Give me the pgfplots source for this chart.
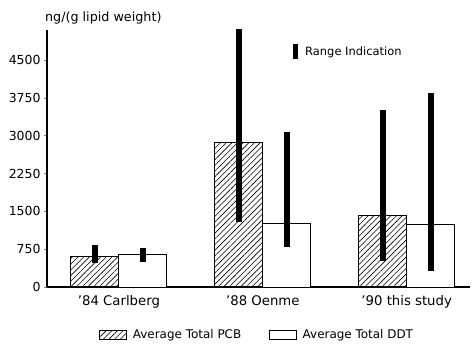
\documentclass[border=0pt]{standalone}
\usepackage{pgfplots}
\pgfplotsset{compat=1.18}
\usepackage{fontspec}
\setmainfont{DejaVu Sans}
\usetikzlibrary{patterns.meta}
\begin{document}
\begin{tikzpicture}
\path[use as bounding box] (-47bp,-65bp) rectangle (428bp,287bp);
\begin{axis}[
  at={(0,0)}, anchor=south west,
  scale only axis, width=423bp, height=257bp,
  xmin=-0.5, xmax=2.44, ymin=0, ymax=5100,
  clip=false,
  axis lines*=left,
  axis line style={line width=1.1bp},
  ybar=0pt, bar width=48bp,
  xtick={0,1,2},
  xticklabels={'84 Carlberg,'88 Oenme,'90 this study},
  ytick={0,750,1500,2250,3000,3750,4500},
  yticklabels={0,750,1500,2250,3000,3750,4500},
  /pgf/number format/assume math mode=true,
  tick align=outside,
  x tick style={draw=none},
  y tick style={line width=0.8bp},
  major tick length=3bp,
  tick label style={font=\fontsize{12.5}{14}\selectfont},
  xticklabel style={font=\fontsize{13.3}{15}\selectfont, yshift=-2bp},
  legend columns=2,
  legend style={at={(rel axis cs:0.497,-0.187)}, anchor=center, draw=none,
    font=\fontsize{12}{14}\selectfont,
    /tikz/every even column/.append style={column sep=26bp}},
  legend image code/.code={\draw[#1] (0bp,-4.5bp) rectangle (27bp,4.5bp); \path[draw=none] (0bp,0bp) -- (31bp,0bp);},
  error bars/y dir=both, error bars/y explicit,
  error bars/error mark=none,
  error bars/error bar style={line width=6bp, black},
]
\addplot[draw=black, line width=0.9bp,
  pattern={Lines[angle=45, distance=4bp, line width=0.6bp]}]
  coordinates {
    (0,600)  += (0,230)  -= (0,125)
    (1,2870) += (0,2250) -= (0,1580)
    (2,1410) += (0,2100) -= (0,895)
  };
\addlegendentry{Average Total PCB}
\addplot[draw=black, fill=white, line width=0.9bp]
  coordinates {
    (0,640)  += (0,130)  -= (0,140)
    (1,1270) += (0,1805) -= (0,475)
    (2,1250) += (0,2600) -= (0,930)
  };
\addlegendentry{Average Total DDT}
\node[anchor=west, inner sep=0pt, font=\fontsize{11.5}{13}\selectfont]
  at (rel axis cs:0.5816,0.916) {\rule[-4bp]{5bp}{15bp}\hspace{7bp}Range Indication};
\node[anchor=base west, inner sep=0pt, font=\fontsize{12.8}{14}\selectfont]
  at (rel axis cs:-0.005,1.035) {ng/(g lipid weight)};
\end{axis}
\end{tikzpicture}
\end{document}
